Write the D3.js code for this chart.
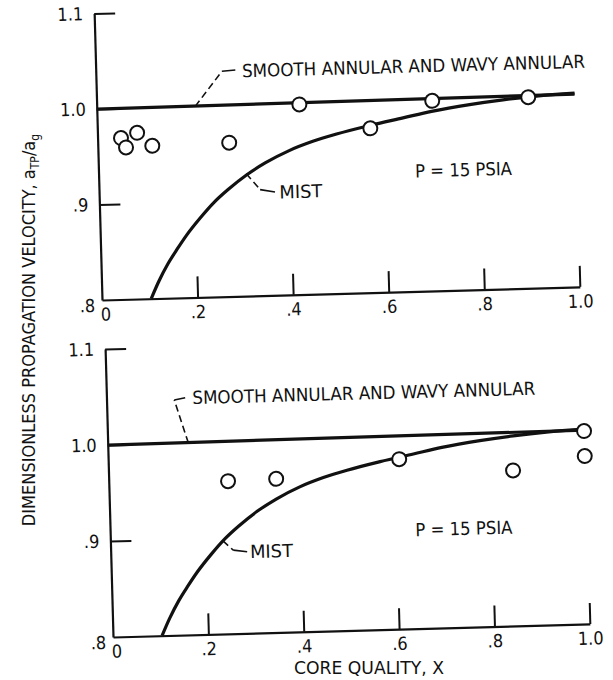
<!DOCTYPE html>
<html><head><meta charset="utf-8">
<script src="https://cdn.jsdelivr.net/npm/d3@7"></script>
<style>
body{margin:0;background:#fff}
text{font-family:"DejaVu Sans Condensed","Liberation Sans Narrow",sans-serif;fill:#111}
</style>
</head><body>
<svg id="chart" width="613" height="680"></svg>
<script>
// ---- data ----
const xTickValues = [0, 0.2, 0.4, 0.6, 0.8, 1.0];
const xTickLabels = ["0", ".2", ".4", ".6", ".8", "1.0"];
const yTickValues = [0.8, 0.9, 1.0, 1.1];
const yTickLabels = [".8", ".9", "1.0", "1.1"];

// theoretical curves
const smoothX = [0, 1.0];
const smoothY = [1.0, 1.002];
const mistX = [0.103, 0.12, 0.14, 0.16, 0.18, 0.21, 0.24, 0.27, 0.31, 0.35, 0.40, 0.45, 0.50, 0.57, 0.64, 0.70, 0.78, 0.85, 0.92, 1.00];
const mistY = [0.800, 0.818, 0.836, 0.851, 0.865, 0.883, 0.899, 0.912, 0.927, 0.939, 0.951, 0.960, 0.967, 0.975, 0.982, 0.988, 0.994, 0.998, 1.001, 1.003];

// measured points
const topX = [0.049, 0.059, 0.083, 0.114, 0.275, 0.424, 0.571, 0.702, 0.903];
const topY = [0.969, 0.959, 0.974, 0.960, 0.961, 0.999, 0.972, 0.999, 1.000];
const bottomX = [0.25, 0.351, 0.61, 0.848, 0.999, 0.999];
const bottomY = [0.959, 0.960, 0.977, 0.962, 1.001, 0.975];

const smoothLabel = "SMOOTH ANNULAR AND WAVY ANNULAR";
const mistLabel = "MIST";
const pressureLabel = "P = 15 PSIA";
const xTitle = "CORE QUALITY,  X";
const yTitle = "DIMENSIONLESS PROPAGATION VELOCITY,  a";

// ---- drawing ----
const svg = d3.select("#chart");
const ink = "#111";
const tilt = -1.57;

function panel(cfg) {
  const g = svg.append("g").attr("transform", `translate(${cfg.ox},${cfg.oy}) rotate(${tilt})`);
  const x = d3.scaleLinear().domain([0, 1]).range([0, cfg.w]);
  const y = d3.scaleLinear().domain([0.8, 1.1]).range([0, -cfg.h]);

  const xa = g.append("g").call(
    d3.axisBottom(x).tickValues(xTickValues).tickFormat((d, i) => xTickLabels[i])
      .tickSize(-21).tickSizeOuter(0).tickPadding(8));
  const ya = g.append("g").call(
    d3.axisLeft(y).tickValues(yTickValues).tickFormat((d, i) => yTickLabels[i])
      .tickSize(-21).tickSizeOuter(0).tickPadding(11));
  [xa, ya].forEach(a => {
    a.attr("font-family", null).attr("font-size", null);
    a.select(".domain").attr("stroke", ink).attr("stroke-width", 2.2);
    a.selectAll(".tick line").attr("stroke", ink).attr("stroke-width", 2);
    a.selectAll(".tick text").style("font-size", "18px").attr("fill", ink);
  });
  xa.selectAll(".tick").filter(d => d === 0).select("line").remove();
  xa.selectAll(".tick").filter(d => d === 0).select("text").attr("dx", 3);
  ya.selectAll(".tick").filter(d => d === 0.8).select("line").remove();
  ya.selectAll(".tick").filter(d => d === 0.8).select("text").attr("dx", 4).attr("dy", "0.62em");

  const line = d3.line().x(d => x(d[0])).y(d => y(d[1])).curve(d3.curveMonotoneX);
  g.append("path").datum(smoothX.map((v, i) => [v, smoothY[i]]))
    .attr("d", line).attr("fill", "none").attr("stroke", ink).attr("stroke-width", 3.2);
  g.append("path").datum(mistX.map((v, i) => [v, mistY[i]]))
    .attr("d", line).attr("fill", "none").attr("stroke", ink).attr("stroke-width", 3.2);

  g.selectAll("circle.pt").data(cfg.px.map((v, i) => [v, cfg.py[i]])).join("circle")
    .attr("class", "pt").attr("cx", d => x(d[0])).attr("cy", d => y(d[1])).attr("r", 7)
    .attr("fill", "#fff").attr("stroke", ink).attr("stroke-width", 2);

  // leaders
  function leader(a, b, c) {
    g.append("path").attr("d", `M${x(a[0])},${y(a[1])}L${x(b[0])},${y(b[1])}`)
      .attr("stroke", ink).attr("stroke-width", 1.6).attr("stroke-dasharray", "7,4").attr("fill", "none");
    g.append("path").attr("d", `M${x(b[0])},${y(b[1])}L${x(c[0])},${y(c[1])}`)
      .attr("stroke", ink).attr("stroke-width", 1.6).attr("fill", "none");
  }
  leader(...cfg.smoothLeader);
  leader(...cfg.mistLeader);

  function label(txt, pos, len) {
    g.append("text").attr("x", x(pos[0])).attr("y", y(pos[1])).attr("dy", "0.36em")
      .attr("textLength", len).attr("lengthAdjust", "spacingAndGlyphs")
      .style("font-size", "18px").text(txt);
  }
  label(smoothLabel, cfg.smoothText, 343);
  label(mistLabel, cfg.mistText, 43);
  label(pressureLabel, cfg.pText, 97);
}

panel({
  ox: 102, oy: 300, w: 478, h: 286.5, px: topX, py: topY,
  smoothLeader: [[0.206, 1.0], [0.264, 1.036], [0.292, 1.037]],
  mistLeader: [[0.309, 0.928], [0.337, 0.911], [0.368, 0.908]],
  smoothText: [0.306, 1.036], mistText: [0.377, 0.908], pText: [0.662, 0.926]
});
panel({
  ox: 113, oy: 637, w: 477, h: 288, px: bottomX, py: bottomY,
  smoothLeader: [[0.169, 1.0], [0.142, 1.045], [0.165, 1.047]],
  mistLeader: [[0.236, 0.897], [0.257, 0.887], [0.286, 0.885]],
  smoothText: [0.18, 1.047], mistText: [0.292, 0.885], pText: [0.64, 0.903]
});

// axis titles
svg.append("text").attr("x", 369).attr("y", 668).attr("dy", "0.36em").attr("text-anchor", "middle")
  .attr("textLength", 150).attr("lengthAdjust", "spacingAndGlyphs")
  .style("font-size", "18px").text(xTitle);

const yt = svg.append("text").attr("transform", "translate(29,330) rotate(-90)")
  .attr("text-anchor", "middle").attr("dy", "0.36em").style("font-size", "18px");
yt.append("tspan").text(yTitle);
yt.append("tspan").attr("dy", 4).style("font-size", "12px").text("TP");
yt.append("tspan").attr("dy", -4).text("/a");
yt.append("tspan").attr("dy", 4).style("font-size", "12px").text("g");
</script>
</body></html>
